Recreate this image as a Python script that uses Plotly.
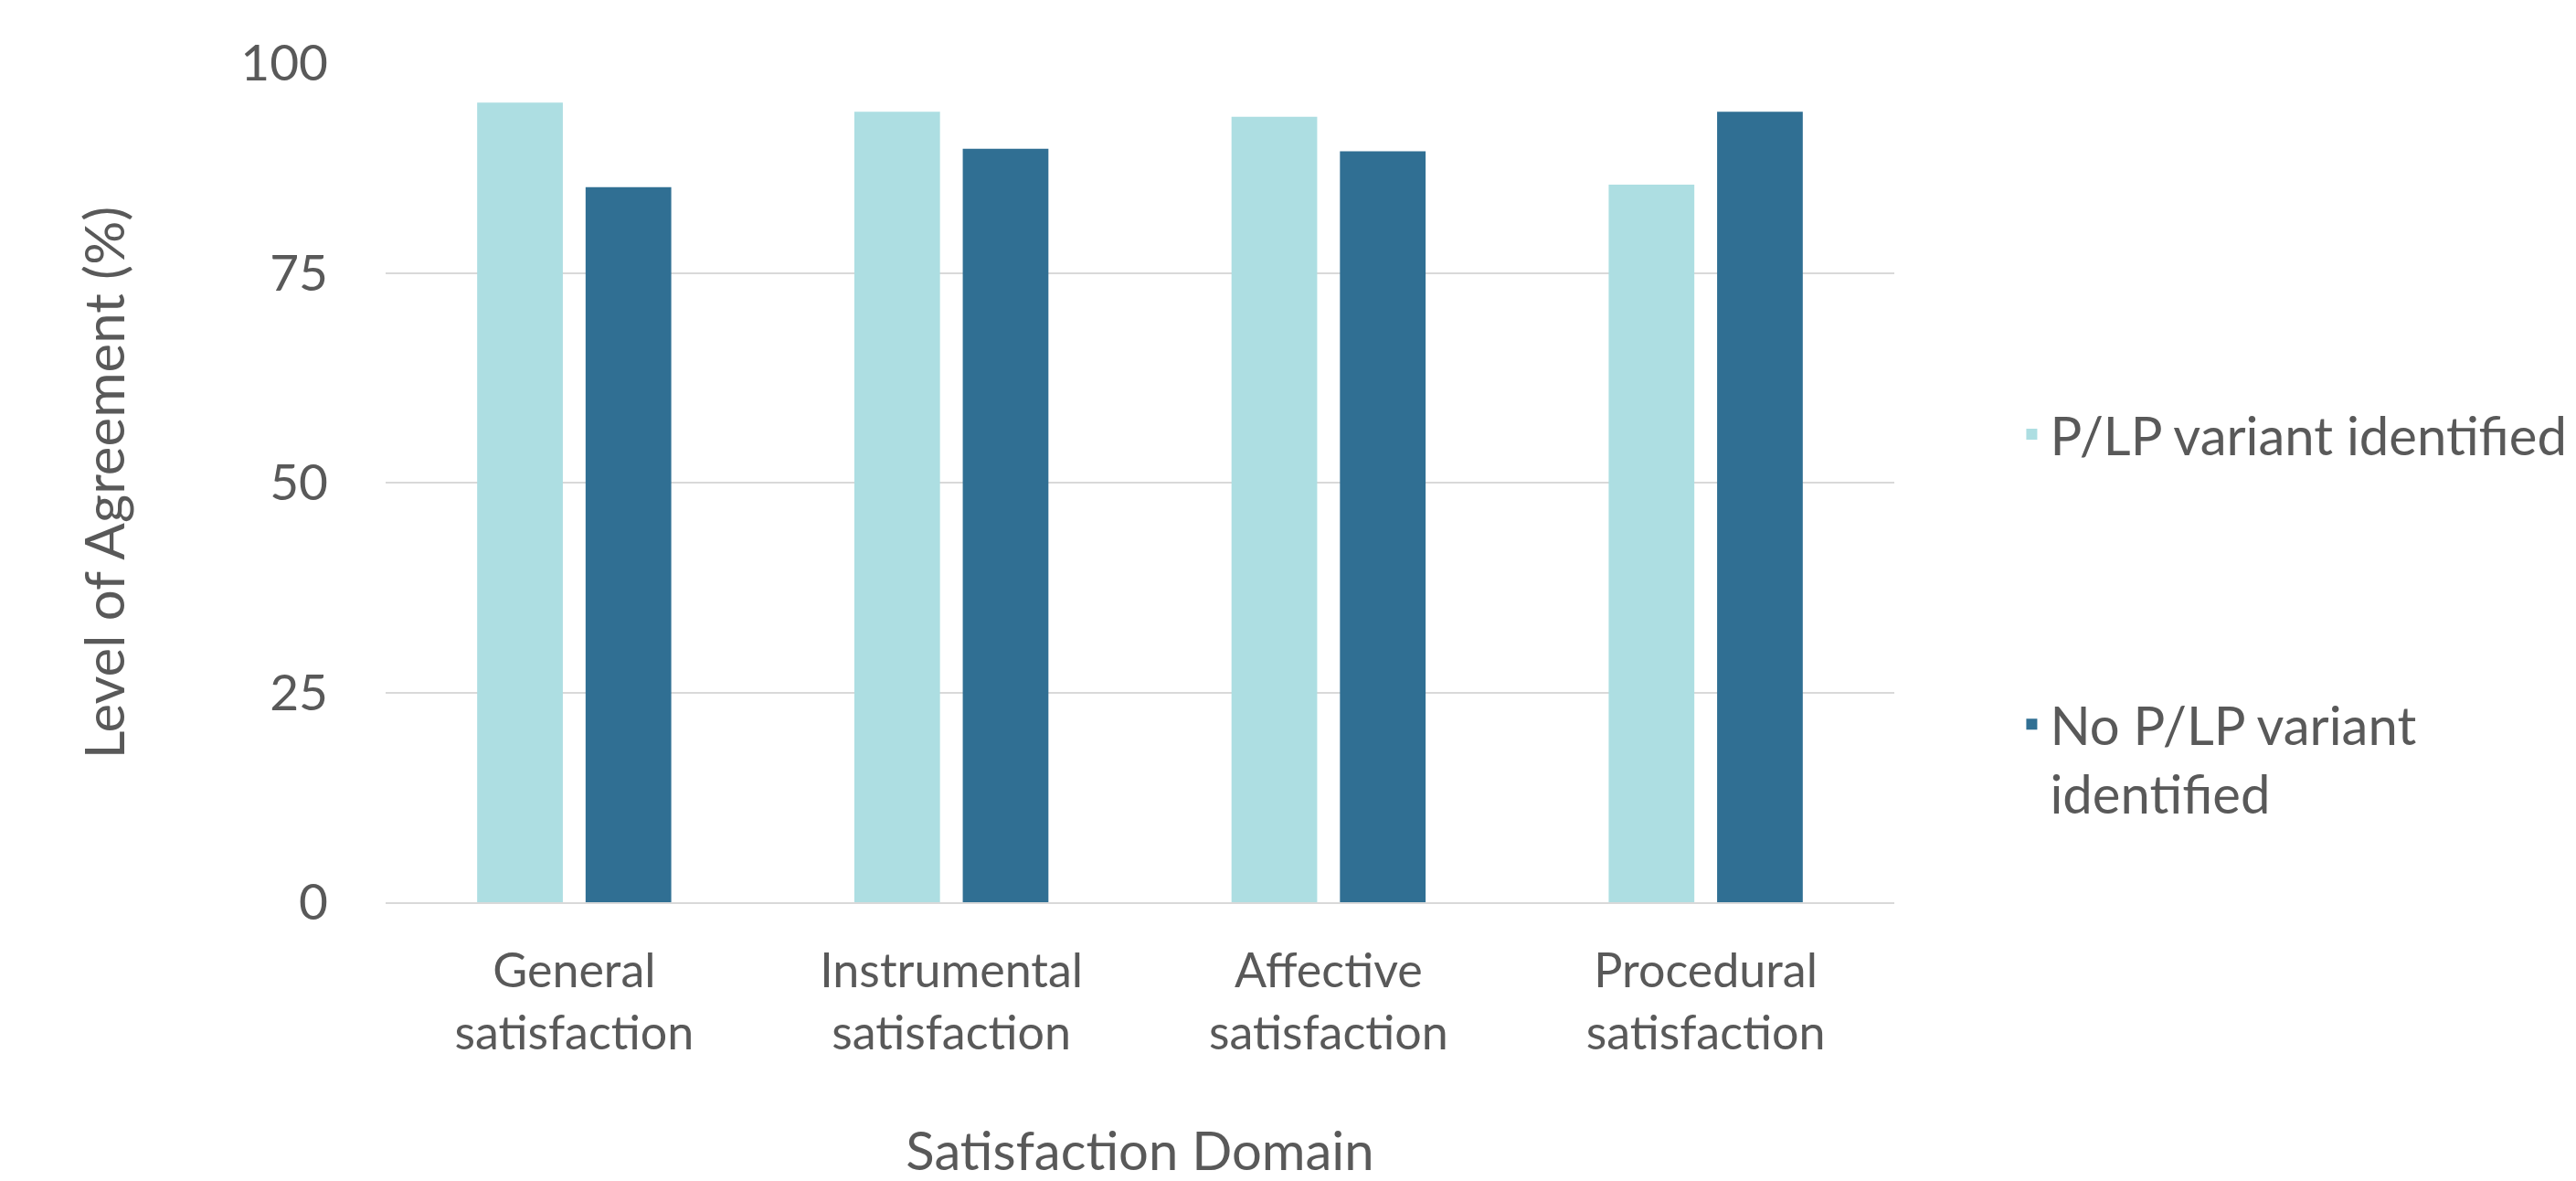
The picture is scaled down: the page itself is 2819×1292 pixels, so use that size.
import plotly.graph_objects as go

categories = ["General<br>satisfaction", "Instrumental<br>satisfaction",
              "Affective<br>satisfaction", "Procedural<br>satisfaction"]
series_names = ["P/LP variant identified", "No P/LP variant<br>identified"]
plp_values = [95.3, 94.2, 93.6, 85.5]
no_plp_values = [85.2, 89.8, 89.5, 94.2]
y_ticks = [0, 25, 50, 75, 100]

FONT = "Lato"
TEXT = "#595959"

fig = go.Figure()
fig.add_trace(go.Bar(x=categories, y=plp_values, name=series_names[0],
                     marker=dict(color="#ADDEE2", line=dict(width=0)),
                     legendgroup="a"))
fig.add_trace(go.Bar(x=categories, y=no_plp_values, name=series_names[1],
                     marker=dict(color="#306F93", line=dict(width=0)),
                     legendgroup="b"))

fig.update_layout(
    width=2819, height=1292,
    margin=dict(l=422, r=746, t=69, b=305, autoexpand=False),
    paper_bgcolor="white", plot_bgcolor="white",
    barmode="group", bargap=0.425, bargroupgap=0.21,
    font=dict(family=FONT, color=TEXT, size=52),
    legend=dict(x=1.079, xanchor="left", y=0.606, yanchor="top",
                font=dict(size=58, color=TEXT), valign="top",
                traceorder="grouped", tracegroupgap=239,
                bgcolor="rgba(0,0,0,0)"),
    xaxis=dict(title=dict(text="Satisfaction Domain", font=dict(size=58, color=TEXT), standoff=83),
               tickfont=dict(size=52, color=TEXT), showline=True, linecolor="#D9D9D9", linewidth=2,
               ticks="", ticklabelstandoff=29, showgrid=False),
    yaxis=dict(title=dict(text="Level of Agreement (%)", font=dict(size=60, color=TEXT), standoff=107),
               tickfont=dict(size=55, color=TEXT), range=[0, 100], tickvals=y_ticks,
               showgrid=True, gridcolor="#D9D9D9", gridwidth=2, zeroline=False,
               ticks="", ticklabelstandoff=62, showline=False),
)
fig.write_html("out.html")
